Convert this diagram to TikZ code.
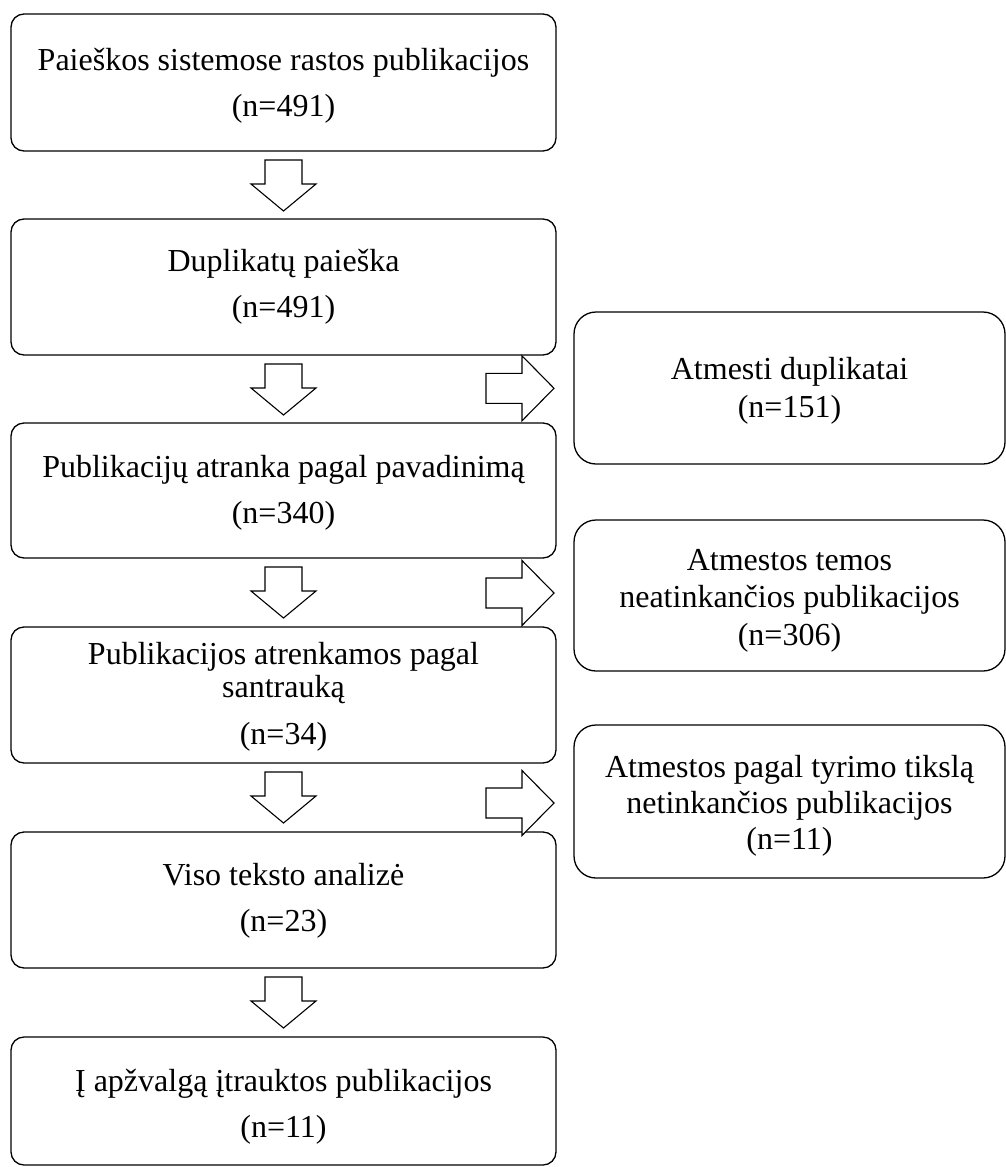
\documentclass[tikz,border=0pt]{standalone}
\usepackage{fontspec}
\setmainfont{Liberation Serif}
\usetikzlibrary{calc}
\begin{document}
\begin{tikzpicture}[x=1pt,y=-1pt,
  lbox/.style={draw, line width=1.3pt, rounded corners=13pt, minimum width=545pt, inner sep=0pt, outer sep=0pt},
  rbox/.style={draw, line width=1.3pt, rounded corners=22pt, minimum width=431pt, inner sep=0pt, outer sep=0pt},
  txt/.style={align=center, inner sep=0pt, font=\fontsize{32}{46}\selectfont},
  rtxt/.style={align=center, inner sep=0pt, font=\fontsize{32}{37.5}\selectfont},
  barrow/.style={draw, line width=1.1pt, fill=white, line join=miter}
]
\useasboundingbox (0,0) rectangle (1006,1167);

% left column boxes
\node[lbox, minimum height=137pt] (b1) at (283.5,82.5) {};
\node[txt] (t1) at (283.5,86) {Paieškos sistemose rastos publikacijos\\(n=491)};

\node[lbox, minimum height=136pt] (b2) at (283.5,287) {};
\node[txt] (t2) at (283.5,286.5) {Duplikatų paieška\\(n=491)};

\node[lbox, minimum height=135pt] (b3) at (283.5,490.5) {};
\node[txt] (t3) at (283.5,492.5) {Publikacijų atranka pagal pavadinimą\\(n=340)};

\node[lbox, minimum height=136pt] (b4) at (283.5,695) {};
\node[txt, font=\fontsize{32}{33.5}\selectfont] (t4) at (283.5,697) {Publikacijos atrenkamos pagal\\santrauką\\[13.5pt](n=34)};

\node[lbox, minimum height=136pt] (b5) at (283.5,900) {};
\node[txt] (t5) at (283.5,901) {Viso teksto analizė\\(n=23)};

\node[lbox, minimum height=128pt] (b6) at (283.5,1101) {};
\node[txt] (t6) at (283.5,1106.5) {Į apžvalgą įtrauktos publikacijos\\(n=11)};

% right column boxes
\node[rbox, minimum height=152pt] (rA) at (789.5,388) {};
\node[rtxt, font=\fontsize{32}{38}\selectfont] (tA) at (789.5,391) {Atmesti duplikatai\\(n=151)};

\node[rbox, minimum height=151pt] (rB) at (789.5,595.5) {};
\node[rtxt] (tB) at (789.5,600.5) {Atmestos temos\\neatinkančios publikacijos\\(n=306)};

\node[rbox, minimum height=153pt] (rC) at (789.5,801.5) {};
\node[rtxt, font=\fontsize{32}{36}\selectfont] (tC) at (789.5,806) {Atmestos pagal tyrimo tikslą\\netinkančios publikacijos\\(n=11)};

% down block arrows
\newcommand\dblock[1]{%
  \draw[barrow] ($(#1.south)+(-18.5,9)$) -- ++(37,0) -- ++(0,24) -- ++(14,0)
    -- ($(#1.south)+(0,60)$) -- ($(#1.south)+(-32.5,33)$) -- ++(14,0) -- cycle;}
\dblock{b1}
\dblock{b2}
\dblock{b3}
\dblock{b4}
\dblock{b5}

% right block arrows
\newcommand\rblock[2]{%
  \draw[barrow] ($(#1.west)+(-88,#2-15)$) -- ++(36,0) -- ++(0,-17.5) -- ($(#1.west)+(-20,#2)$)
    -- ($(#1.west)+(-52,#2+32.5)$) -- ++(0,-17.5) -- ++(-36,0) -- cycle;}
\rblock{rA}{0.3}
\rblock{rB}{-2.5}
\rblock{rC}{1.5}
\end{tikzpicture}
\end{document}
